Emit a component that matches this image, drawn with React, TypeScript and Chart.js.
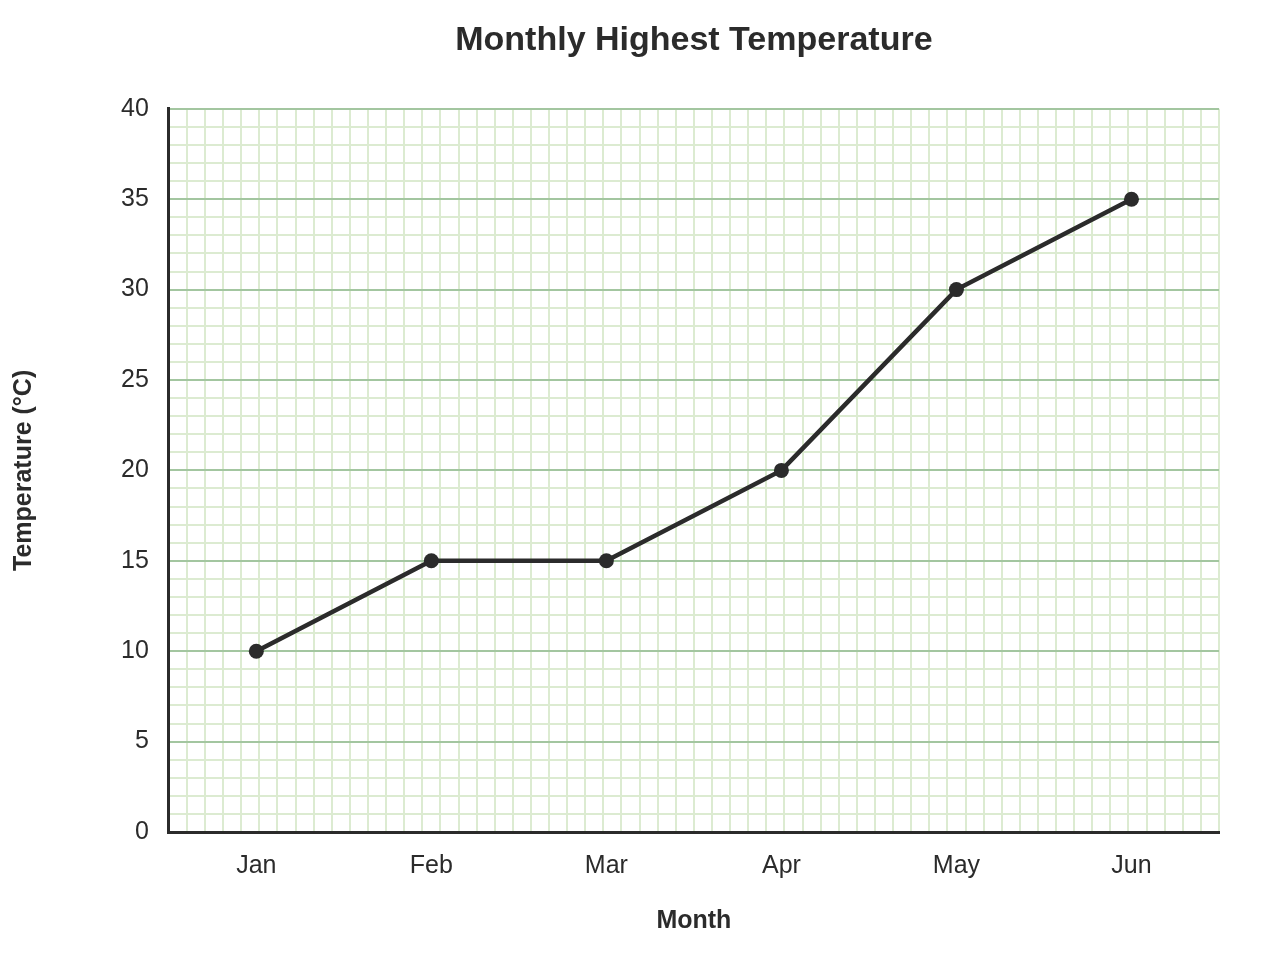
import { useEffect, useRef } from 'react';
import Chart from 'chart.js/auto';

const months = ['Jan', 'Feb', 'Mar', 'Apr', 'May', 'Jun'];
const highestTemps = [10, 15, 15, 20, 30, 35];

const FONT = 'Arial, "Liberation Sans", sans-serif';
const INK = '#2b2b2b';
const MAJOR_GRID = '#a3c6a0';
const MINOR_GRID = '#dcebd1';

export default function App() {
  const canvasRef = useRef<HTMLCanvasElement>(null);
  const chartRef = useRef<Chart | null>(null);

  useEffect(() => {
    if (!canvasRef.current) return;
    if (chartRef.current) chartRef.current.destroy();

    chartRef.current = new Chart(canvasRef.current, {
      type: 'line',
      data: {
        labels: months,
        datasets: [
          {
            label: 'Highest Temperature',
            data: highestTemps,
            borderColor: INK,
            backgroundColor: INK,
            borderWidth: 4.5,
            pointRadius: 7.5,
            pointBackgroundColor: INK,
            pointBorderWidth: 0,
            tension: 0,
            fill: false,
          },
        ],
      },
      options: {
        responsive: true,
        maintainAspectRatio: false,
        animation: false,
        layout: { padding: { left: 1, right: 53, top: 0, bottom: 36 } },
        scales: {
          x: {
            type: 'category',
            offset: true,
            grid: { display: false, drawTicks: false },
            border: { display: true, color: INK, width: 3 },
            ticks: { color: INK, padding: 19, font: { family: FONT, size: 25 } },
            title: {
              display: true,
              text: 'Month',
              color: INK,
              font: { family: FONT, size: 25, weight: 'bold' },
              padding: { top: 6, bottom: 0 },
            },
          },
          // fine vertical graph-paper lines
          xGrid: {
            type: 'linear',
            position: 'bottom',
            min: 0,
            max: 58,
            grid: { color: MINOR_GRID, lineWidth: 2, drawTicks: false },
            border: { display: false },
            ticks: { display: false, stepSize: 1 },
          },
          y: {
            min: 0,
            max: 40,
            grid: {
              drawTicks: false,
              lineWidth: 2,
              color: (ctx: any) => (ctx.tick && ctx.tick.value % 5 === 0 ? MAJOR_GRID : MINOR_GRID),
            },
            border: { display: true, color: INK, width: 3 },
            ticks: {
              stepSize: 1,
              autoSkip: false,
              color: INK,
              padding: 20,
              font: { family: FONT, size: 25 },
              callback: (v: any) => (Number(v) % 5 === 0 ? String(v) : ''),
            },
            title: {
              display: true,
              text: 'Temperature (°C)',
              color: INK,
              font: { family: FONT, size: 25, weight: 'bold' },
              padding: { top: 0, bottom: 62 },
            },
          },
        },
        plugins: {
          legend: { display: false },
          tooltip: { enabled: false },
          title: {
            display: true,
            text: 'Monthly Highest Temperature',
            fullSize: false,
            color: INK,
            font: { family: FONT, size: 34, weight: 'bold' },
            padding: { top: 12, bottom: 48 },
          },
        },
      },
    });

    return () => {
      if (chartRef.current) {
        chartRef.current.destroy();
        chartRef.current = null;
      }
    };
  }, []);

  return (
    <div style={{ width: 1264, height: 964, position: 'relative' }}>
      <canvas ref={canvasRef} />
    </div>
  );
}
